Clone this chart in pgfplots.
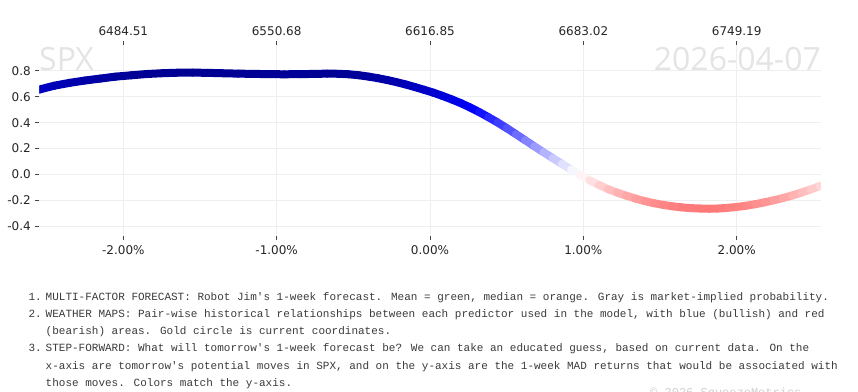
\documentclass[border=0pt]{standalone}
\usepackage{pgfplots}
\usepackage{pgfplotstable}
\pgfplotsset{compat=1.18}
\usepackage{fontspec}
\setmainfont{DejaVu Sans}
\newfontfamily\monofont{Liberation Mono}
\newfontfamily\wmfont{Open Sans}
\definecolor{tickgray}{HTML}{444444}
\definecolor{gridgray}{HTML}{EEEEEE}
\definecolor{wmgray}{HTML}{E4E4E4}
\definecolor{txtgray}{HTML}{3A3A3A}
\definecolor{copygray}{HTML}{D0D0D0}

\pgfplotstableread{
x y
-2.60 0.640
-2.55 0.655
-2.45 0.685
-2.35 0.707
-2.25 0.725
-2.15 0.740
-2.05 0.755
-1.95 0.765
-1.85 0.775
-1.75 0.781
-1.65 0.785
-1.55 0.786
-1.45 0.784
-1.35 0.781
-1.25 0.778
-1.15 0.776
-1.05 0.774
-0.95 0.773
-0.85 0.774
-0.75 0.776
-0.67 0.778
-0.60 0.777
-0.53 0.773
-0.46 0.765
-0.40 0.755
-0.34 0.743
-0.28 0.729
-0.22 0.713
-0.16 0.695
-0.10 0.675
-0.04 0.654
0.02 0.632
0.08 0.607
0.14 0.580
0.20 0.551
0.26 0.518
0.32 0.482
0.38 0.443
0.44 0.402
0.50 0.358
0.56 0.312
0.62 0.265
0.68 0.218
0.74 0.172
0.80 0.127
0.86 0.082
0.92 0.039
0.98 -0.005
1.04 -0.044
1.10 -0.080
1.16 -0.112
1.22 -0.139
1.28 -0.163
1.34 -0.185
1.40 -0.205
1.46 -0.221
1.52 -0.234
1.58 -0.245
1.64 -0.253
1.70 -0.259
1.76 -0.262
1.82 -0.264
1.88 -0.262
1.94 -0.257
2.00 -0.250
2.06 -0.241
2.12 -0.229
2.18 -0.215
2.24 -0.199
2.30 -0.182
2.36 -0.162
2.42 -0.140
2.48 -0.116
2.54 -0.090
2.60 -0.065
}\curve

\begin{document}
\begin{tikzpicture}
\begin{axis}[
  at={(39.3pt,-236pt)}, anchor=south west, scale only axis,
  width=781.4pt, height=190.5pt,
  xmin=-2.548, xmax=2.548, ymin=-0.474, ymax=0.995,
  axis line style={draw=none},
  xtick={-2,-1,0,1,2},
  xticklabels={-2.00\%,-1.00\%,0.00\%,1.00\%,2.00\%},
  ytick={-0.4,-0.2,0,0.2,0.4,0.6,0.8},
  yticklabels={-0.4,-0.2,0.0,0.2,0.4,0.6,0.8},
  xtick pos=bottom, ytick pos=left,
  tick align=outside, major tick length=4pt,
  tick style={draw=tickgray, line width=0.8pt},
  grid=major, grid style={draw=gridgray, line width=0.8pt},
  tick label style={font=\fontsize{12}{14}\selectfont, text=black!85},
  xticklabel style={yshift=-2pt},
  yticklabel style={xshift=-1pt},
  colormap={bluered}{rgb255(0pt)=(255,0,0); rgb255(50pt)=(255,255,255); rgb255(100pt)=(0,0,255); rgb255(130pt)=(0,0,140)},
  point meta min=-0.5, point meta max=0.8,
]
\addplot[mesh, line width=8pt, line cap=round, point meta=\thisrow{y}] table[x=x,y=y]{\curve};
\end{axis}
\begin{axis}[
  at={(39.3pt,-236pt)}, anchor=south west, scale only axis,
  width=781.4pt, height=190.5pt,
  xmin=-2.548, xmax=2.548, ymin=-0.474, ymax=0.995,
  axis x line*=top, hide y axis,
  axis line style={draw=none},
  xtick={-2,-1,0,1,2},
  xticklabels={6484.51,6550.68,6616.85,6683.02,6749.19},
  tick align=outside, major tick length=4pt,
  tick style={draw=tickgray, line width=0.8pt},
  tick label style={font=\fontsize{12}{14}\selectfont, text=black!85},
  xticklabel style={yshift=2pt},
]
\addplot[draw=none] coordinates {(0,0)};
\end{axis}
\node[anchor=base west, inner sep=0pt, text=wmgray, font=\wmfont\fontsize{32}{36}\selectfont] at (39pt,-70pt) {SPX};
\node[anchor=base east, inner sep=0pt, text=wmgray, font=\wmfont\fontsize{32}{36}\selectfont] at (821pt,-70pt) {2026-04-07};
\begin{scope}[every node/.style={anchor=base west, inner sep=0pt, text=txtgray, font=\monofont\fontsize{11}{13}\selectfont}]
\node at (28.3pt,-300pt) {1.};
\node at (45.5pt,-300pt) {MULTI-FACTOR FORECAST: Robot Jim's 1-week forecast. Mean = green, median = orange. Gray is market-implied probability.};
\node at (28.3pt,-317.3pt) {2.};
\node at (45.5pt,-317.3pt) {WEATHER MAPS: Pair-wise historical relationships between each predictor used in the model, with blue (bullish) and red};
\node at (45.5pt,-334.6pt) {(bearish) areas. Gold circle is current coordinates.};
\node at (28.3pt,-351.9pt) {3.};
\node at (45.5pt,-351.9pt) {STEP-FORWARD: What will tomorrow's 1-week forecast be? We can take an educated guess, based on current data. On the};
\node at (45.5pt,-369.2pt) {x-axis are tomorrow's potential moves in SPX, and on the y-axis are the 1-week MAD returns that would be associated with};
\node at (45.5pt,-386.5pt) {those moves. Colors match the y-axis.};
\node[text=copygray, font=\monofont\fontsize{12}{14}\selectfont] at (650pt,-396pt) {\textcopyright{} 2026 SqueezeMetrics};
\end{scope}
\pgfresetboundingbox
\path[use as bounding box] (0pt,0pt) rectangle (858pt,-391pt);
\end{tikzpicture}
\end{document}
